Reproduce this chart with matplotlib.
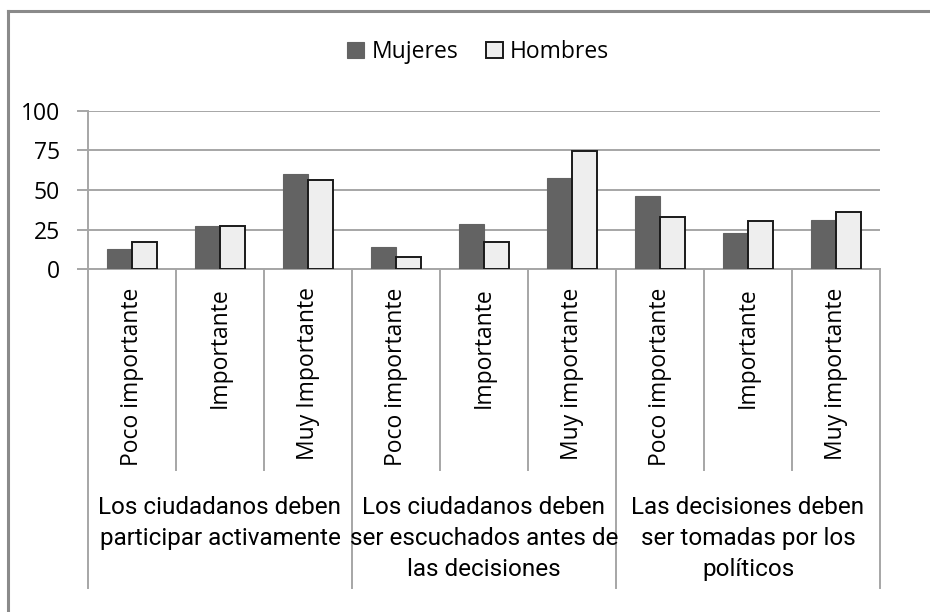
import numpy as np
import matplotlib
matplotlib.use('Agg')
import matplotlib.pyplot as plt

groups = ['Los ciudadanos deben\nparticipar activamente',
          'Los ciudadanos deben\nser escuchados antes de\nlas decisiones',
          'Las decisiones deben\nser tomadas por los\npolíticos']
cats = ['Poco importante', 'Importante', 'Muy Importante',
        'Poco importante', 'Importante', 'Muy importante',
        'Poco importante', 'Importante', 'Muy importante']
mujeres = [13, 27, 60, 14, 28.5, 57.5, 46, 23, 31]
hombres = [17.5, 27, 56, 8, 17.5, 74.5, 33, 30.5, 36]
yticks = [0, 25, 50, 75, 100]

plt.rcParams['font.family'] = ['Open Sans', 'DejaVu Sans']
W, H = 930, 612
fig = plt.figure(figsize=(W/100, H/100), dpi=100)

# outer frame
fig.add_artist(plt.Line2D([8/W, 8/W], [0, 1-11/H], color='#8a8a8a', lw=2.2))
fig.add_artist(plt.Line2D([8/W, 1], [1-11/H, 1-11/H], color='#8a8a8a', lw=2.2))

x0, x1, y0, y1 = 88, 880, 269.3, 110.7
ax = fig.add_axes([x0/W, 1-y0/H, (x1-x0)/W, (y0-y1)/H])
x = np.arange(len(cats))
bw = 0.28
ax.bar(x-bw/2, mujeres, bw, color='#636363', edgecolor='#636363', lw=0.8, zorder=3, label='Mujeres')
ax.bar(x+bw/2, hombres, bw, color='#eeeeee', edgecolor='#1a1a1a', lw=1.4, zorder=3, label='Hombres')
ax.set_xlim(-0.5, len(cats)-0.5)
ax.set_ylim(0, 100)
ax.set_yticks(yticks)
ax.yaxis.grid(True, color='#a6a6a6', lw=1.4)
for s in ['top', 'right']:
    ax.spines[s].set_visible(False)
for s in ['left', 'bottom']:
    ax.spines[s].set_color('#a6a6a6')
    ax.spines[s].set_linewidth(1.4)
ax.tick_params(axis='y', length=8, width=1.4, color='#a6a6a6', pad=12, labelsize=16.5)
ax.set_xticks(x)
ax.set_xticklabels(cats, rotation=90, fontsize=16.5)
ax.tick_params(axis='x', length=0, pad=13)

tr = ax.get_xaxis_transform()
ybot_in = -(470-y0)/(y0-y1)
ybot_gr = -(588-y0)/(y0-y1)
for i in range(len(cats)+1):
    b = i-0.5
    yb = ybot_gr if i % 3 == 0 else ybot_in
    ax.plot([b, b], [0, yb], transform=tr, color='#a6a6a6', lw=1.4, clip_on=False)
for g, name in enumerate(groups):
    ax.text(3*g+1, -(496-y0)/(y0-y1), name, transform=tr, ha='center', va='top',
            fontsize=17.5, linespacing=1.45, family=['Roboto', 'Open Sans'])

ax.legend(loc='center', bbox_to_anchor=(478/W, 1-52/H), bbox_transform=fig.transFigure,
          ncol=2, frameon=False, fontsize=16.5, handlelength=0.75, handleheight=0.75,
          handletextpad=0.3, columnspacing=1.2)

plt.savefig('out.png', dpi=100)
